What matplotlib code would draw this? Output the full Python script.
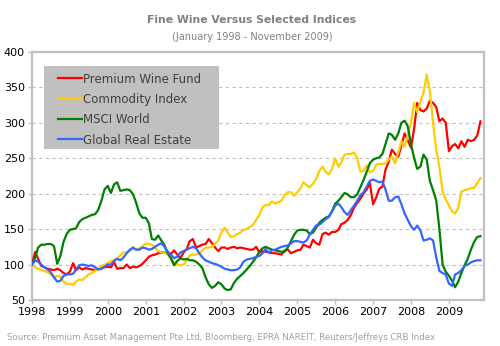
#### Fine wine versus selected indices, Jan 1998 - Nov 2009

import numpy as np
import pandas as pd
import matplotlib
matplotlib.use('Agg')
import matplotlib.pyplot as plt
import matplotlib.dates as mdates
from matplotlib.patches import Rectangle

# - Monthly index values (Jan 1998 = 100)
dates = pd.date_range('1998-01-01', '2009-11-01', freq='MS')

wine = [100, 118, 108, 98, 96, 94, 93, 92, 94, 92, 88, 86,
        90, 102, 92, 96, 93, 95, 94, 93, 92, 94, 95, 96,
        97, 96, 104, 94, 95, 95, 100, 95, 97, 96, 98, 101,
        106, 111, 113, 114, 116, 117, 117, 117, 115, 120, 114, 109,
        117, 122, 133, 136, 124, 126, 128, 129, 136, 130, 124, 119,
        124, 124, 122, 124, 125, 123, 124, 123, 122, 121, 121, 125,
        117, 119, 118, 117, 116, 116, 115, 114, 120, 121, 116, 118,
        120, 121, 128, 126, 124, 135, 130, 128, 143, 145, 142, 146,
        146, 149, 157, 159, 163, 170, 180, 187, 193, 200, 206, 215,
        185, 195, 207, 210, 234, 245, 262, 256, 252, 268, 285, 275,
        265, 292, 328, 318, 316, 320, 331, 328, 322, 302, 306, 300,
        260, 267, 270, 264, 274, 266, 276, 274, 276, 282, 302]

commodity = [100, 96, 94, 92, 91, 89, 86, 82, 84, 83, 76, 73,
             73, 71, 76, 79, 78, 82, 86, 88, 91, 94, 98, 100,
             102, 105, 106, 109, 113, 117, 117, 119, 122, 121, 123, 126,
             130, 129, 128, 124, 119, 117, 117, 114, 108, 104, 100, 99,
             100, 106, 113, 114, 114, 116, 120, 124, 124, 125, 129, 134,
             145, 152, 145, 139, 140, 143, 145, 149, 150, 153, 156, 163,
             170, 181, 184, 184, 189, 186, 188, 190, 198, 202, 202, 197,
             202, 208, 216, 212, 209, 214, 221, 232, 238, 231, 227, 235,
             250, 238, 244, 255, 256, 256, 258, 250, 231, 232, 240, 230,
             232, 241, 242, 242, 243, 248, 252, 243, 258, 274, 266, 282,
             300, 328, 315, 330, 342, 368, 345, 300, 262, 238, 203, 192,
             183, 175, 172, 180, 203, 205, 206, 208, 208, 215, 222]

msci = [100, 110, 124, 128, 128, 129, 129, 126, 101, 112, 132, 143,
        149, 150, 151, 160, 164, 166, 168, 170, 171, 177, 190, 206,
        211, 201, 213, 216, 204, 205, 206, 205, 199, 187, 172, 166,
        166, 158, 136, 135, 141, 134, 127, 116, 109, 99, 105, 109,
        107, 108, 106, 106, 104, 100, 95, 82, 72, 67, 70, 75,
        72, 66, 64, 65, 74, 80, 84, 88, 93, 98, 104, 110,
        118, 123, 125, 123, 121, 120, 119, 118, 118, 124, 133, 142,
        148, 149, 149, 148, 143, 145, 152, 159, 163, 166, 168, 175,
        186, 190, 195, 201, 199, 195, 195, 199, 209, 219, 231, 243,
        248, 250, 251, 256, 270, 285, 283, 276, 285, 300, 303, 295,
        270, 250, 235, 238, 255, 248, 218, 205, 190, 150, 100, 90,
        84, 77, 68, 76, 88, 99, 108, 121, 132, 139, 140]

real_estate = [100, 106, 104, 100, 96, 93, 89, 82, 76, 77, 84, 86,
               86, 87, 93, 99, 100, 99, 98, 99, 96, 93, 94, 97,
               100, 100, 105, 108, 106, 110, 116, 121, 124, 121, 121, 124,
               123, 121, 122, 125, 128, 130, 125, 118, 114, 109, 111, 117,
               119, 121, 123, 125, 123, 116, 110, 106, 104, 102, 101, 99,
               97, 94, 93, 92, 92, 93, 96, 104, 107, 108, 109, 111,
               112, 116, 122, 117, 120, 121, 123, 125, 126, 127, 130, 133,
               133, 132, 131, 134, 142, 149, 155, 156, 160, 164, 167, 175,
               183, 186, 181, 174, 170, 177, 183, 190, 198, 202, 210, 218,
               220, 218, 216, 217, 206, 190, 190, 195, 196, 185, 172, 163,
               154, 149, 155, 148, 134, 135, 137, 134, 110, 91, 88, 86,
               73, 70, 86, 88, 92, 98, 100, 103, 105, 106, 106]

series_names = ["Premium Wine Fund", "Commodity Index", "MSCI World", "Global Real Estate"]
series_colors = ["#ff0000", "#ffcc00", "#008000", "#3366ff"]
y_ticks = [50, 100, 150, 200, 250, 300, 350, 400]
years = list(range(1998, 2010))

# - Figure
fig = plt.figure(figsize=(5, 3.46), dpi=100)
ax = fig.add_axes([0.064, 0.133, 0.904, 0.717])

for name, values, color in zip(series_names, [wine, commodity, msci, real_estate], series_colors):
    ax.plot(dates, values, color=color, lw=1.6, label=name, zorder=3)

# - Axes
ax.set_ylim(50, 400)
ax.set_yticks(y_ticks)
ax.set_xlim(pd.Timestamp('1998-01-01'), pd.Timestamp('2009-12-05'))
ax.set_xticks([pd.Timestamp(f'{y}-01-01') for y in years])
ax.xaxis.set_major_formatter(mdates.DateFormatter('%Y'))
ax.yaxis.grid(True, color='#c0c0c0', linestyle=(0, (3, 3)), lw=0.8)
ax.set_axisbelow(True)
for sp in ax.spines.values():
    sp.set_color('#c0c0c0')
    sp.set_linewidth(1.6)
ax.tick_params(axis='both', length=3, width=1, color='#c0c0c0', labelsize=8,
               labelcolor='black', pad=2)

# - Legend on a grey box
ax.add_patch(Rectangle((0.0265, 0.61), 0.387, 0.335, transform=ax.transAxes,
                       facecolor='#c0c0c0', edgecolor='none', zorder=4))
leg = ax.legend(loc='upper left', bbox_to_anchor=(0.04, 0.95), frameon=False,
                fontsize=8.5, handlelength=2.0, handletextpad=0.1,
                labelspacing=0.62, borderpad=0.2)
leg.set_zorder(5)
for t in leg.get_texts():
    t.set_color('#404040')

# - Titles and source
fig.text(0.504, 0.942, 'Fine Wine Versus Selected Indices', ha='center', va='center',
         fontsize=7.8, fontweight='bold', color='#808080')
fig.text(0.504, 0.893, '(January 1998 - November 2009)', ha='center', va='center',
         fontsize=7, color='#808080')
fig.text(0.014, 0.026, 'Source: Premium Asset Management Pte Ltd, Bloomberg, EPRA NAREIT, '
         'Reuters/Jeffreys CRB Index', ha='left', va='center', fontsize=6.2, color='#a0a0a0')

fig.savefig('out.png', dpi=100)
